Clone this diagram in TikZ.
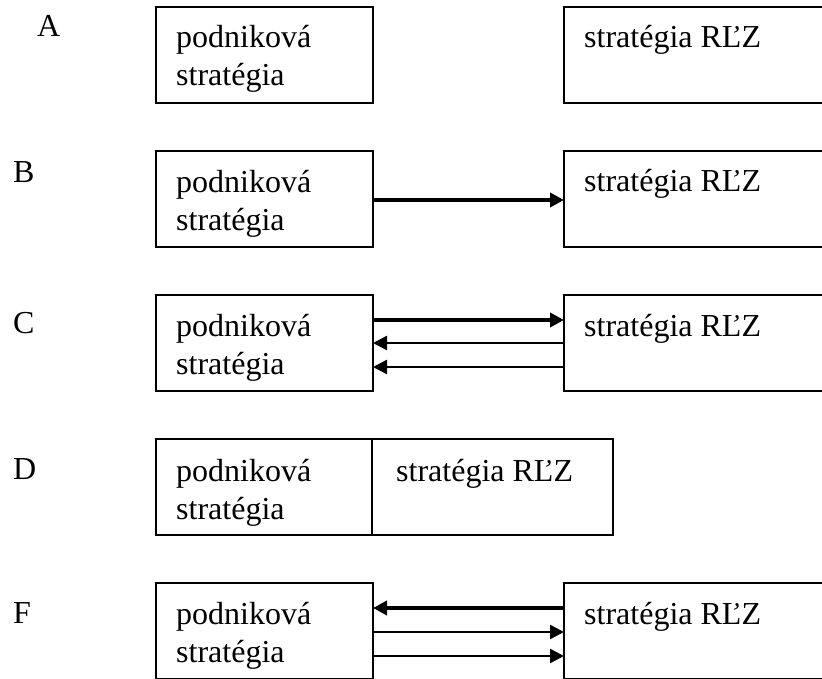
\documentclass[tikz,border=0pt]{standalone}
\usepackage{fontspec}
\setmainfont{Liberation Serif}
\usetikzlibrary{arrows.meta,calc}
\tikzset{
  box/.style={draw, line width=1.6pt, anchor=north west, inner sep=0pt, outer sep=0pt, minimum height=96pt},
  txt/.style={anchor=base west, inner sep=0pt, font=\fontsize{32}{38}\selectfont, align=left},
  lbl/.style={anchor=base west, inner sep=0pt, font=\fontsize{32}{38}\selectfont},
  thickarr/.style={line width=4pt, -{Triangle[length=14pt,width=14pt]}},
  thinarr/.style={line width=2.4pt, -{Triangle[length=14pt,width=14pt]}}
}
\begin{document}
\begin{tikzpicture}[x=1pt,y=-1pt]
\useasboundingbox (0,0) rectangle (822,679);
\clip (0,0) rectangle (822,679);
% Row A
\node[lbl] (la) at (37,37) {A};
\node[box, minimum width=217pt] (a1) at (156,7) {};
\node[box, minimum width=300pt] (a2) at (564,7) {};
\node[txt] (ta1) at ($(a1.north west)+(20,79)$) {podniková\\stratégia};
\node[txt] (ta2) at ($(a2.north west)+(20,41)$) {stratégia RĽZ};
% Row B
\node[lbl] (lb) at (13,183) {B};
\node[box, minimum width=217pt] (b1) at (156,151) {};
\node[box, minimum width=300pt] (b2) at (564,151) {};
\node[txt] (tb1) at ($(b1.north west)+(20,79)$) {podniková\\stratégia};
\node[txt] (tb2) at ($(b2.north west)+(20,41)$) {stratégia RĽZ};
\draw[thickarr] ($(b1.north east)+(0,49)$) -- ($(b2.north west)+(0,49)$);
% Row C
\node[lbl] (lc) at (13,333) {C};
\node[box, minimum width=217pt] (c1) at (156,295) {};
\node[box, minimum width=300pt] (c2) at (564,295) {};
\node[txt] (tc1) at ($(c1.north west)+(20,79)$) {podniková\\stratégia};
\node[txt] (tc2) at ($(c2.north west)+(20,41)$) {stratégia RĽZ};
\draw[thickarr] ($(c1.north east)+(0,25)$) -- ($(c2.north west)+(0,25)$);
\draw[thinarr] ($(c2.north west)+(0,48)$) -- ($(c1.north east)+(0,48)$);
\draw[thinarr] ($(c2.north west)+(0,72)$) -- ($(c1.north east)+(0,72)$);
% Row D
\node[lbl] (ld) at (13,479) {D};
\node[box, minimum width=216pt] (d1) at (156,439) {};
\node[box, minimum width=241pt] (d2) at (372,439) {};
\node[txt] (td1) at ($(d1.north west)+(20,80)$) {podniková\\stratégia};
\node[txt] (td2) at ($(d2.north west)+(24,42)$) {stratégia RĽZ};
% Row F
\node[lbl] (lf) at (13,623) {F};
\node[box, minimum width=217pt] (f1) at (156,583) {};
\node[box, minimum width=300pt] (f2) at (564,583) {};
\node[txt] (tf1) at ($(f1.north west)+(20,79)$) {podniková\\stratégia};
\node[txt] (tf2) at ($(f2.north west)+(20,41)$) {stratégia RĽZ};
\draw[thickarr] ($(f2.north west)+(0,25)$) -- ($(f1.north east)+(0,25)$);
\draw[thinarr] ($(f1.north east)+(0,49)$) -- ($(f2.north west)+(0,49)$);
\draw[thinarr] ($(f1.north east)+(0,73)$) -- ($(f2.north west)+(0,73)$);
\end{tikzpicture}
\end{document}
